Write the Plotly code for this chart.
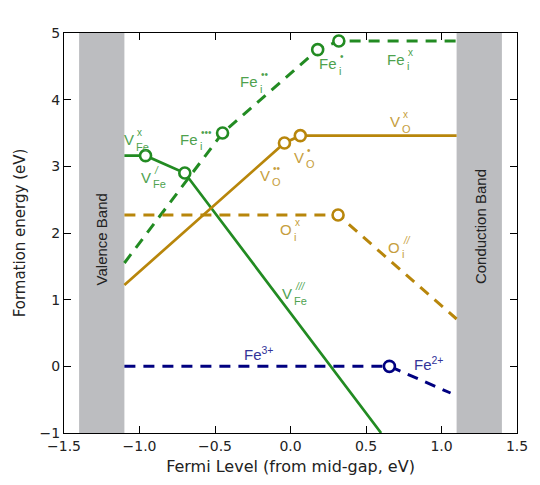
import plotly.graph_objects as go

# ---- data ----
vfe_x = [-1.1, -0.96, -0.70, 0.60]
vfe_y = [3.16, 3.16, 2.90, -1.0]
fei_x = [-1.1, -0.45, 0.18, 0.32, 1.1]
fei_y = [1.55, 3.50, 4.75, 4.88, 4.88]
vo_x = [-1.1, -0.04, 0.065, 1.1]
vo_y = [1.22, 3.35, 3.46, 3.46]
oi_x = [-1.1, 0.315, 1.1]
oi_y = [2.27, 2.27, 0.71]
fe_x = [-1.1, 0.655, 1.06]
fe_y = [0.0, 0.0, -0.40]

x_ticks = [-1.5, -1.0, -0.5, 0.0, 0.5, 1.0, 1.5]
y_ticks = [-1, 0, 1, 2, 3, 4, 5]
valence_band = [-1.4, -1.1]
conduction_band = [1.1, 1.4]

GREEN = "#228B22"
GOLD = "#B8860B"
NAVY = "#000080"
GREEN_T = "#4ea24e"
GOLD_T = "#c69e3c"
NAVY_T = "#333399"

fig = go.Figure()

def add_series(xs, ys, color, dashed):
    fig.add_trace(go.Scatter(
        x=xs, y=ys, mode="lines",
        line=dict(color=color, width=3 if dashed else 2.7,
                  dash="11px,8px" if dashed else "solid"),
        showlegend=False, hoverinfo="skip"))
    fig.add_trace(go.Scatter(
        x=xs[1:-1], y=ys[1:-1], mode="markers",
        marker=dict(symbol="circle", size=11, color="white",
                    line=dict(color=color, width=2.6)),
        showlegend=False, hoverinfo="skip"))

add_series(vfe_x, vfe_y, GREEN, False)
add_series(fei_x, fei_y, GREEN, True)
add_series(vo_x, vo_y, GOLD, False)
add_series(oi_x, oi_y, GOLD, True)
add_series(fe_x, fe_y, NAVY, True)

# bands
for band in (valence_band, conduction_band):
    fig.add_shape(type="rect", xref="x", yref="paper", x0=band[0], x1=band[1],
                  y0=0, y1=1, fillcolor="#bcbdc0", line=dict(width=0), layer="below")

FONT = "Liberation Sans, Arial, sans-serif"
ann = []

def kv(x, y, base, sub, sup, color, bsize=15, ssize=11, psize=10):
    ann.append(dict(x=x, y=y, text=base, xanchor="right", yanchor="middle",
                    yshift=-2, showarrow=False,
                    font=dict(family=FONT, size=bsize, color=color)))
    if sub:
        ann.append(dict(x=x, y=y, text=sub, xanchor="left", yanchor="middle",
                        yshift=-9, xshift=-2, showarrow=False,
                        font=dict(family=FONT, size=ssize, color=color)))
    if sup:
        ann.append(dict(x=x, y=y, text=sup, xanchor="left", yanchor="middle",
                        yshift=5, xshift=-1, showarrow=False,
                        font=dict(family=FONT, size=psize, color=color)))

kv(-0.20, 4.30, "Fe", "i", "••", GREEN_T)
kv(0.32, 4.57, "Fe", "i", "•", GREEN_T)
kv(0.77, 4.64, "Fe", "i", "x", GREEN_T)
kv(-0.60, 3.44, "Fe", "i", "•••", GREEN_T)
kv(-1.02, 3.43, "V", "Fe", "x", GREEN_T)
kv(-0.91, 2.87, "V", "Fe", "<i>/</i>", GREEN_T)
kv(0.025, 1.12, "V", "Fe", "<i>///</i>", GREEN_T)
kv(0.74, 3.70, "V", "O", "x", GOLD_T)
kv(0.105, 3.17, "V", "O", "•", GOLD_T)
kv(-0.125, 2.90, "V", "O", "••", GOLD_T)
kv(0.025, 2.08, "O", "i", "x", GOLD_T)
kv(0.74, 1.82, "O", "i", "<i>//</i>", GOLD_T)

ann.append(dict(x=-0.21, y=0.20, text="Fe<sup>3+</sup>", showarrow=False,
                font=dict(family=FONT, size=15, color=NAVY_T)))
ann.append(dict(x=0.92, y=0.05, text="Fe<sup>2+</sup>", showarrow=False,
                font=dict(family=FONT, size=15, color=NAVY_T)))

ann.append(dict(x=-1.25, y=1.90, text="Valence Band", textangle=-90, showarrow=False,
                font=dict(family=FONT, size=15, color="#222222")))
ann.append(dict(x=1.26, y=2.10, text="Conduction Band", textangle=-90, showarrow=False,
                font=dict(family=FONT, size=15, color="#222222")))

axis_common = dict(showline=True, linecolor="black", linewidth=1, mirror="ticks",
                   ticks="inside", ticklen=7, tickcolor="black", showgrid=False,
                   zeroline=False,
                   tickfont=dict(family="DejaVu Sans", size=14, color="#222"))

fig.update_layout(
    width=540, height=485,
    margin=dict(l=64, r=17, t=33, b=52),
    plot_bgcolor="white", paper_bgcolor="white",
    annotations=ann,
    xaxis=dict(range=[-1.5, 1.5], tickvals=x_ticks, tickformat=".1f",
               title=dict(text="Fermi Level (from mid-gap, eV)", standoff=8,
                          font=dict(family="DejaVu Sans", size=16, color="#222")),
               **axis_common),
    yaxis=dict(range=[-1, 5], tickvals=y_ticks,
               title=dict(text="Formation energy (eV)", standoff=10,
                          font=dict(family="DejaVu Sans", size=15, color="#222")),
               **axis_common),
)

fig.write_html("out.html")
